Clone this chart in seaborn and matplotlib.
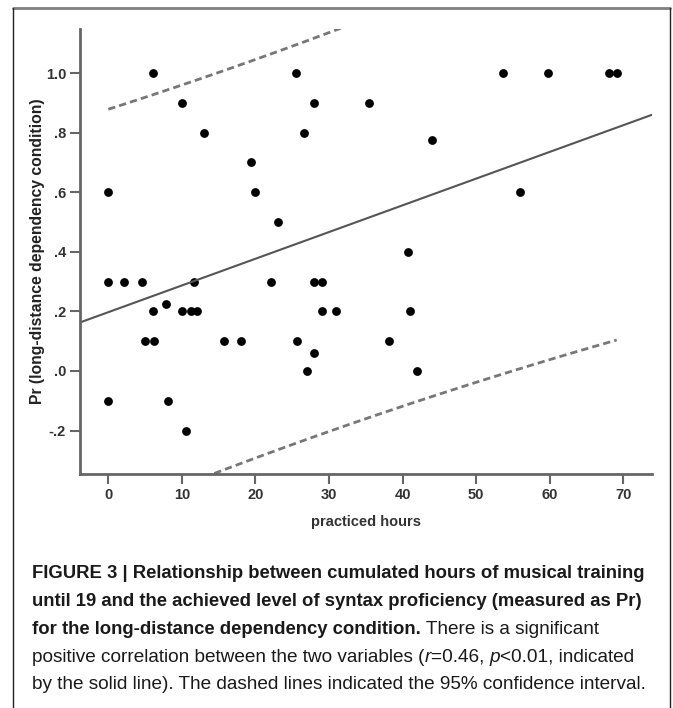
import numpy as np
import pandas as pd
import matplotlib
matplotlib.use("Agg")
from matplotlib import pyplot as plt
from matplotlib.lines import Line2D
import seaborn as sns

# values
hours = [0, 0, 0, 2.1, 4.6, 5.0, 6.1, 6.1, 6.2, 7.8, 8.1, 10.0, 10.0, 10.5, 11.3,
         11.7, 12.1, 13.0, 15.7, 18.0, 19.4, 20.0, 22.1, 23.0, 25.5, 25.6, 26.6,
         27.0, 28.0, 28.0, 28.0, 29.0, 29.0, 31.0, 35.4, 38.2, 40.7, 41.0, 42.0,
         44.0, 53.7, 56.0, 59.7, 68.0, 69.1]
pr = [0.6, 0.3, -0.1, 0.3, 0.3, 0.1, 1.0, 0.2, 0.1, 0.225, -0.1, 0.9, 0.2, -0.2, 0.2,
      0.3, 0.2, 0.8, 0.1, 0.1, 0.7, 0.6, 0.3, 0.5, 1.0, 0.1, 0.8,
      0.0, 0.9, 0.3, 0.06, 0.3, 0.2, 0.2, 0.9, 0.1, 0.4, 0.2, 0.0,
      0.775, 1.0, 0.6, 1.0, 1.0, 1.0]

x_ticks = [0, 10, 20, 30, 40, 50, 60, 70]
y_ticks = [-0.2, 0.0, 0.2, 0.4, 0.6, 0.8, 1.0]
y_tick_labels = ["-.2", ".0", ".2", ".4", ".6", ".8", "1.0"]

T_975 = 2.017  # t(0.975, df=43)

caption = [
    [("FIGURE 3 | Relationship between cumulated hours of musical training", "bold", "normal")],
    [("until 19 and the achieved level of syntax proficiency (measured as Pr)", "bold", "normal")],
    [("for the long-distance dependency condition.", "bold", "normal"),
     (" There is a significant", "normal", "normal")],
    [("positive correlation between the two variables (", "normal", "normal"),
     ("r", "normal", "italic"), ("=0.46, ", "normal", "normal"),
     ("p", "normal", "italic"), ("<0.01, indicated", "normal", "normal")],
    [("by the solid line). The dashed lines indicated the 95% confidence interval.", "normal", "normal")],
]

df = pd.DataFrame({"practiced hours": hours, "Pr": pr})

sns.set_theme(style="white")
plt.rcParams["font.family"] = ["Liberation Sans", "DejaVu Sans"]

W, H = 673, 708
fig = plt.figure(figsize=(W / 100, H / 100), dpi=100)
ax = fig.add_axes([80 / W, 1 - 474 / H, 572 / W, 445 / H])
ax.set_xlim(-3.85, 73.9)
ax.set_ylim(-0.346, 1.148)

sns.regplot(data=df, x="practiced hours", y="Pr", ax=ax, ci=None, truncate=False,
            color="black",
            scatter_kws=dict(s=40, alpha=1, linewidths=0),
            line_kws=dict(color="#555555", lw=1.5))

# 95% prediction interval for individual values
X = np.array(hours)
Y = np.array(pr)
n = len(X)
slope, intercept = np.polyfit(X, Y, 1)
resid = Y - (intercept + slope * X)
s = np.sqrt((resid ** 2).sum() / (n - 2))
sxx = ((X - X.mean()) ** 2).sum()
xs = np.linspace(X.min(), X.max(), 100)
fit = intercept + slope * xs
half = T_975 * s * np.sqrt(1 + 1 / n + (xs - X.mean()) ** 2 / sxx)
for sign in (1, -1):
    ax.plot(xs, fit + sign * half, color="#777777", lw=2, linestyle=(0, (2.6, 1.5)))

sns.despine(ax=ax)
for side in ("left", "bottom"):
    ax.spines[side].set_color("#666666")
    ax.spines[side].set_linewidth(2)

ax.set_xticks(x_ticks)
ax.set_yticks(y_ticks)
ax.set_yticklabels(y_tick_labels)
ax.tick_params(bottom=True, left=True, direction="out", length=7, width=1.5,
               color="#666666", labelsize=10.5, labelcolor="#333333", pad=3)
for lab in ax.get_xticklabels() + ax.get_yticklabels():
    lab.set_fontweight("bold")

ax.set_xlabel("practiced hours", fontsize=10.5, fontweight="bold", color="#333333")
ax.set_ylabel("Pr (long-distance dependency condition)", fontsize=11.3,
              fontweight="bold", color="#222222")
ax.xaxis.set_label_coords(0.5, (474 - 522) / 445)
ax.xaxis.label.set_va("center")
ax.yaxis.set_label_coords((38 - 80) / 572, 0.5)
ax.yaxis.label.set_va("center")

# figure frame
fig.add_artist(Line2D([13 / W, 670 / W], [1 - 8 / H, 1 - 8 / H], transform=fig.transFigure,
                      color="#808080", lw=2))
for xp in (13, 670):
    fig.add_artist(Line2D([xp / W, xp / W], [1 - 8 / H, -0.05], transform=fig.transFigure,
                          color="#222222", lw=1))

# caption, drawn run by run so bold / italic parts sit on one line
line_bottoms = [582, 610, 638, 666, 693]
for runs, yb in zip(caption, line_bottoms):
    prev = None
    for text, weight, style in runs:
        kw = dict(fontsize=13.3 if weight == "bold" else 13.7, fontweight=weight,
                  fontstyle=style, color="#1a1a1a", ha="left", va="bottom")
        if prev is None:
            prev = fig.text(32 / W, 1 - yb / H, text, **kw)
        else:
            prev = ax.annotate(text, xy=(1, 0), xycoords=prev, **kw)

fig.savefig("out.png", dpi=100, facecolor="white")
